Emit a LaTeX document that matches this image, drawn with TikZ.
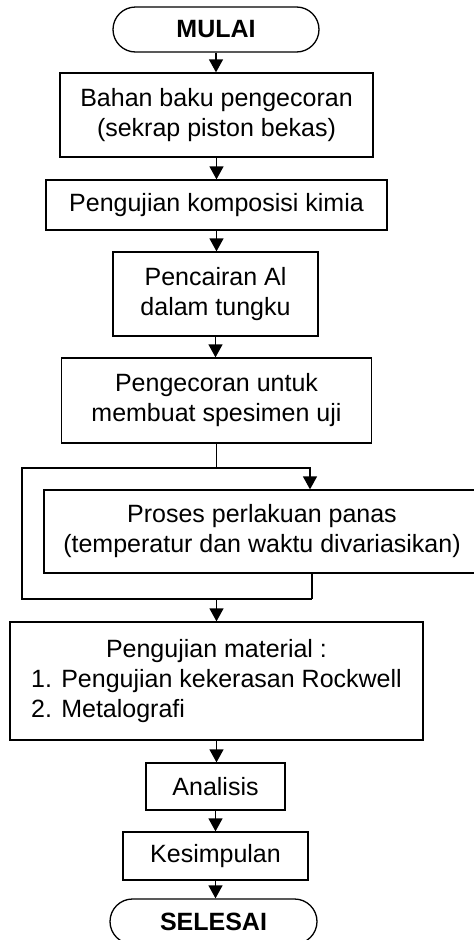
\documentclass[tikz,border=0pt]{standalone}
\usepackage{fontspec}
\setmainfont{Liberation Sans}
\usetikzlibrary{arrows.meta,shapes.misc}

\tikzset{
  proses/.style={draw,line width=1.3pt,align=center,inner sep=0pt},
  terminal/.style={draw,line width=1.3pt,rounded rectangle,inner sep=0pt,font=\fontsize{25}{30}\selectfont\bfseries},
  panah/.style={line width=1.3pt,-{Triangle[width=14pt,length=13pt]}},
  garis/.style={line width=1.3pt}
}

\begin{document}
\begin{tikzpicture}[x=1pt,y=1pt,font=\fontsize{25}{30}\selectfont]
  \useasboundingbox (0,0) rectangle (474,-940);

  % start
  \node[terminal,minimum width=206,minimum height=45] (mulai) at (216,-29.5) {MULAI};

  % process steps
  \node[proses,minimum width=313,minimum height=84] (bahan) at (216.5,-115) {Bahan baku pengecoran\\(sekrap piston bekas)};
  \node[proses,minimum width=341,minimum height=50] (kimia) at (216.5,-205) {Pengujian komposisi kimia};
  \node[proses,minimum width=205,minimum height=84] (cair) at (215.5,-294) {Pencairan Al\\dalam tungku};
  \node[proses,minimum width=310,minimum height=85] (cor) at (216.5,-400.5) {Pengecoran untuk\\membuat spesimen uji};
  \node[proses,minimum width=436,minimum height=83] (panas) at (262,-531.5) {Proses perlakuan panas\\(temperatur dan waktu divariasikan)};
  \node[proses,minimum width=413,minimum height=118] (uji) at (216.5,-681) {\begin{tabular}{@{}l@{}}\multicolumn{1}{@{}c@{}}{Pengujian material :}\\1. Pengujian kekerasan Rockwell\\2. Metalografi\end{tabular}};
  \node[proses,minimum width=139,minimum height=47] (analisis) at (215.5,-786.5) {Analisis};
  \node[proses,minimum width=185,minimum height=48] (simpul) at (215.5,-856) {Kesimpulan};

  % end
  \node[terminal,minimum width=207,minimum height=45] (selesai) at (213.5,-921.5) {SELESAI};

  % straight arrows
  \draw[panah] (mulai.south) -- (mulai.south |- bahan.north);
  \draw[panah] (bahan.south) -- (bahan.south |- kimia.north);
  \draw[panah] (kimia.south) -- (kimia.south |- cair.north);
  \draw[panah] (cair.south) -- (cair.south |- cor.north);
  \draw[panah] (uji.south) -- (uji.south |- analisis.north);
  \draw[panah] (analisis.south) -- (analisis.south |- simpul.north);
  \draw[panah] (simpul.south) -- (simpul.south |- selesai.north);

  % heat treatment loop
  \coordinate (atas) at (cor.south |- 0,-468);
  \coordinate (masuk) at (310,-468);
  \coordinate (kiri) at (22,-468);
  \coordinate (bawah) at (uji.north |- 0,-599);
  \coordinate (keluar) at (312,-599);
  \draw[garis] (cor.south) -- (atas);
  \draw[panah] (atas) -- (masuk) -- (masuk |- panas.north);
  \draw[garis] (atas) -- (kiri) |- (keluar);
  \draw[garis] (keluar |- panas.south) -- (keluar);
  \draw[panah] (bawah) -- (uji.north);
\end{tikzpicture}
\end{document}
